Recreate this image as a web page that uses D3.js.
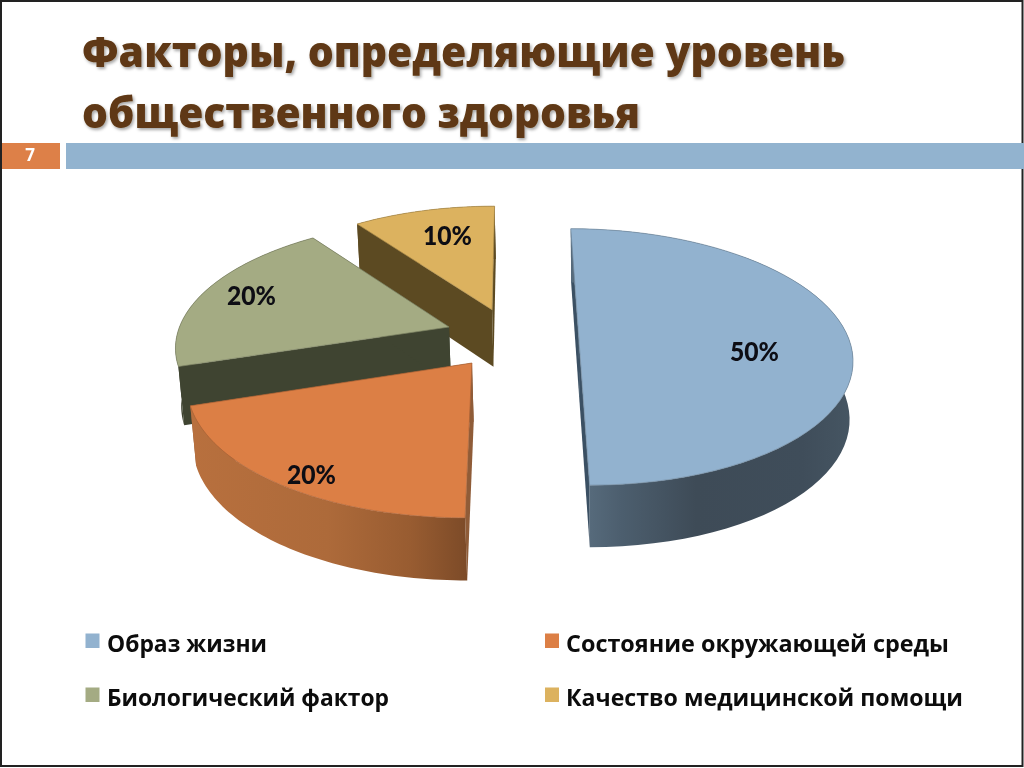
<!DOCTYPE html>
<html lang="ru"><head><meta charset="utf-8">
<script src="https://cdn.jsdelivr.net/npm/d3@7/dist/d3.min.js"></script>
<style>
html,body{margin:0;padding:0;background:#fff;overflow:hidden}
svg{display:block;filter:blur(.35px)}
text{font-family:"Open Sans","Noto Sans",sans-serif}
</style></head><body>
<svg id="c" width="1024" height="768"></svg>
<script>
const categories = ["Образ жизни","Состояние окружающей среды","Биологический фактор","Качество медицинской помощи"];
const values = [50,20,20,10];
const valueLabels = ["50%","20%","20%","10%"];
const titleLines = ["Факторы, определяющие уровень","общественного здоровья"];
const slideNumber = "7";
const topColors = ["#92b2cf","#dc7f45","#a4ab83","#dcb25f"];

// layout (not data)
const explode = [[.244,0],[-.148,-.186],[-.240,.0967],[-.08,.24]];
const spread = [1,1.014,1.012,.99];
const labelBoxes = [[730,361],[287,484],[227,305],[423,245]];
const drawOrder = [3,2,1,0];
const VX=513,H=-559,A=898,B=270,P=.14,N=2859,C=1.0968,NX=600,KX=.45;

const project=(u,v)=>{const w=1+P*v;return [VX+u*B/w,H+A/w];};
const lower=([x,y])=>{const s=y-H,r=s/(N-s),s2=N*C*r/(1+C*r);
  return [x+KX*(NX-x)*(1-(N-s2)/(N-s)),H+s2];};

const svg=d3.select("#c");
const defs=svg.append("defs");
const shadow=defs.append("filter").attr("id","ts").attr("x","-5%").attr("y","-20%").attr("width","110%").attr("height","150%");
shadow.append("feDropShadow").attr("dx",1.5).attr("dy",2).attr("stdDeviation",1.5).attr("flood-color","#000").attr("flood-opacity",.35);

const grad=(id,x1,x2,stops)=>{const g=defs.append("linearGradient").attr("id",id).attr("gradientUnits","userSpaceOnUse")
  .attr("x1",x1).attr("x2",x2).attr("y1",0).attr("y2",0);
  stops.forEach(([o,c])=>g.append("stop").attr("offset",o).attr("stop-color",c));};
grad("w0",590,855,[[0,"#566a7b"],[.12,"#4c5e6e"],[.4,"#3e4b57"],[.8,"#3f4d5a"],[1,"#465663"]]);
grad("w1",190,466,[[0,"#b8703e"],[.5,"#ad6a3a"],[.8,"#985c31"],[1,"#7d4b28"]]);
grad("w2",177,450,[[0,"#3f4431"],[1,"#3f4431"]]);
grad("w3",358,495,[[0,"#5c4a22"],[1,"#5c4a22"]]);

const radialColors=[["#3b5063","#3b5063"],["#8f5c38","#8f5c38"],["#3f4431","#3f4431"],["#5c4a22","#5c4a22"]];

// frame
svg.append("rect").attr("x",1).attr("y",1).attr("width",1021.5).attr("height",765).attr("fill","#fff").attr("stroke","#222").attr("stroke-width",2);

// header
svg.append("rect").attr("x",2).attr("y",143).attr("width",58).attr("height",26).attr("fill","#dd8048");
svg.append("rect").attr("x",66).attr("y",143).attr("width",958).attr("height",26).attr("fill","#92b3cf");
svg.append("text").attr("x",30).attr("y",161).attr("text-anchor","middle").attr("font-size",17).attr("font-weight",700).attr("fill","#fff").text(slideNumber);

// title
const titleLayout=[[82,67,763],[82,128,558]];
svg.selectAll("text.t").data(titleLines).join("text").attr("class","t")
  .attr("x",(d,i)=>titleLayout[i][0]).attr("y",(d,i)=>titleLayout[i][1])
  .attr("textLength",(d,i)=>titleLayout[i][2]).attr("lengthAdjust","spacingAndGlyphs")
  .attr("font-size",43).attr("font-weight",800).attr("fill","#5f3813").attr("filter","url(#ts)").text(d=>d);

// pie
const arcs=d3.pie().sort(null).startAngle(0).endAngle(2*Math.PI)(values);
const line=d3.line();
const plot=svg.append("g");
drawOrder.forEach(i=>{
  const a=arcs[i],[ou,ov]=explode[i];
  const pt=t=>project(ou+spread[i]*Math.sin(t),ov+Math.cos(t));
  const steps=d3.range(0,61).map(k=>a.startAngle+(a.endAngle-a.startAngle)*k/60);
  const rim=steps.map(pt);
  const ctr=project(ou,ov);
  const g=plot.append("g");
  [[rim[0],0],[rim[60],1]].forEach(([e,k])=>{
    g.append("path").attr("d",line([e,ctr,lower(ctr),lower(e)])+"Z").attr("fill",radialColors[i][k]);
  });
  g.append("path").attr("d",line(rim.concat(rim.map(lower).reverse()))+"Z").attr("fill",`url(#w${i})`);
  g.append("path").attr("d",line([ctr].concat(rim))+"Z").attr("fill",topColors[i])
    .attr("stroke",d3.color(topColors[i]).darker(.7)).attr("stroke-width",.7).attr("stroke-linejoin","round");
});

// value labels
svg.selectAll("text.v").data(valueLabels).join("text").attr("class","v")
  .attr("x",(d,i)=>labelBoxes[i][0]).attr("y",(d,i)=>labelBoxes[i][1])
  .attr("textLength",49).attr("lengthAdjust","spacingAndGlyphs")
  .style("font-family","Lato,'Open Sans',sans-serif")
  .attr("font-size",26).attr("font-weight",900).attr("fill","#0d0d14").text(d=>d);

// legend
const legendLayout=[[85.5,107,652,160],[545,566,652,383],[85.5,107,706,282],[545,566,706,397]];
const lg=svg.selectAll("g.l").data(categories).join("g").attr("class","l");
lg.append("rect").attr("x",(d,i)=>legendLayout[i][0]).attr("y",(d,i)=>legendLayout[i][2]-18.5)
  .attr("width",14).attr("height",14.5).attr("fill",(d,i)=>topColors[i]);
lg.append("text").attr("x",(d,i)=>legendLayout[i][1]).attr("y",(d,i)=>legendLayout[i][2])
  .attr("textLength",(d,i)=>legendLayout[i][3]).attr("lengthAdjust","spacingAndGlyphs")
  .attr("font-size",24).attr("font-weight",700).attr("fill","#0c0c0c").text(d=>d);
</script>
</body></html>
